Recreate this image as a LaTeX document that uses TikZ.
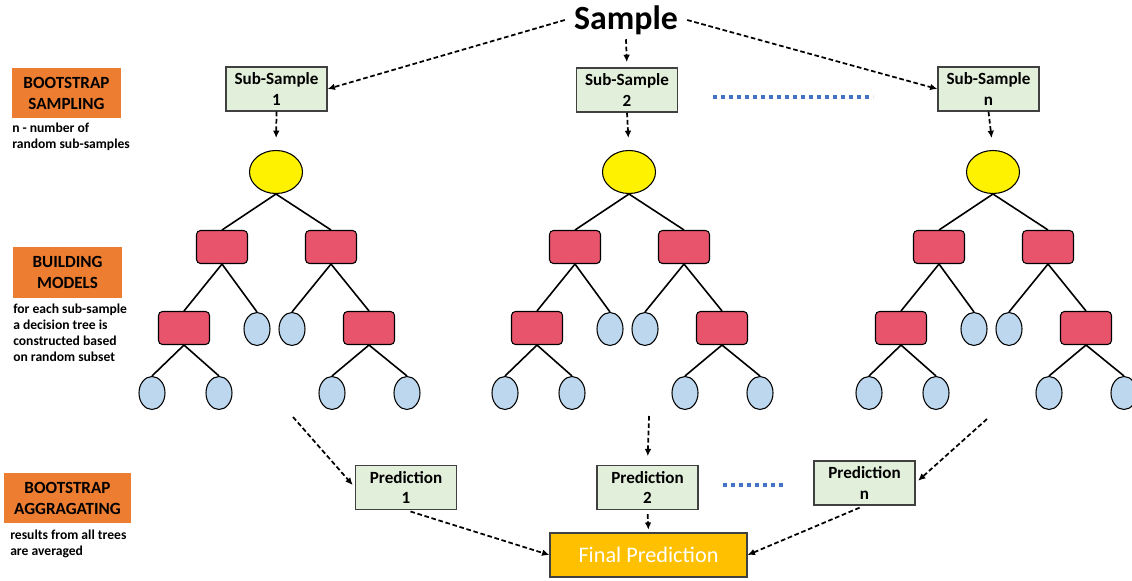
\documentclass[tikz,border=0pt]{standalone}
\usepackage{fontspec}
\setmainfont{Carlito}
\usetikzlibrary{shapes.geometric,arrows.meta}
\definecolor{phaseor}{HTML}{ED7D31}
\definecolor{boxgreen}{HTML}{E2EFDA}
\definecolor{boxline}{HTML}{404040}
\definecolor{splitred}{HTML}{E8546C}
\definecolor{leafblue}{HTML}{BDD7EE}
\definecolor{finalgold}{HTML}{FFC000}
\definecolor{dotblue}{HTML}{4472C4}
\tikzset{
  phasebox/.style={fill=phaseor, minimum width=81.75pt, minimum height=37.5pt, align=center, inner sep=0pt,
    font=\fontsize{12.8}{15.7}\selectfont\bfseries},
  phasenote/.style={anchor=west, align=left, inner sep=0pt, font=\fontsize{10.2}{11.9}\selectfont\bfseries},
  greenbox/.style={draw=boxline, fill=boxgreen, line width=0.9pt, minimum width=75.75pt, minimum height=33pt,
    align=center, inner sep=0pt, font=\fontsize{12.8}{15.7}\selectfont\bfseries},
  finalbox/.style={draw=boxline, fill=finalgold, line width=0.9pt, minimum width=147.75pt, minimum height=33pt,
    inner sep=0pt, text=white, font=\fontsize{16.7}{20}\selectfont},
  treeroot/.style={ellipse, draw, fill=yellow, line width=0.8pt, minimum width=39.75pt, minimum height=32.25pt, inner sep=0pt},
  treesplit/.style={draw, fill=splitred, rounded corners=3pt, line width=0.8pt, minimum width=38.25pt, minimum height=24.75pt, inner sep=0pt},
  treeleaf/.style={ellipse, draw, fill=leafblue, line width=0.8pt, minimum width=19.5pt, minimum height=24.75pt, inner sep=0pt},
  branch/.style={line width=1.2pt},
  flow/.style={-{Latex[length=5.5pt,width=5pt]}, dash pattern=on 3.5pt off 2pt, line width=1.3pt},
  dotline/.style={draw=dotblue, line width=2.4pt, dash pattern=on 3pt off 3pt}
}
\begin{document}
\begin{tikzpicture}[x=0.75pt,y=-0.75pt]
\useasboundingbox (0,0) rectangle (1132,581);

\node[phasebox] (samp) at (66.5,93) {BOOTSTRAP\\SAMPLING};
\node[phasenote] (sampnote) at (12,137) {n - number of\\random sub-samples};
\node[phasebox] (build) at (67.5,272.5) {BUILDING\\MODELS};
\node[phasenote] (buildnote) at (13,333) {for each sub-sample\\a decision tree is\\constructed based\\on random subset};
\node[phasebox, minimum width=95.25pt] (aggr) at (67.5,498) {BOOTSTRAP\\AGGRAGATING};
\node[phasenote] (aggrnote) at (10,544) {results from all trees\\are averaged};

\node[inner xsep=6.75pt, font=\fontsize{25.4}{30}\selectfont\bfseries] (sample) at (626,20) {Sample};
\node[greenbox] (sub1) at (276.5,89) {Sub-Sample\\1};
\node[greenbox] (sub2) at (627,90) {Sub-Sample\\2};
\node[greenbox] (subn) at (988.5,89) {Sub-Sample\\n};
\draw[dotline] (713,97) -- (873,97);
\draw[flow] (sample.west) -- (sub1.east);
\draw[flow, shorten >=4pt] (sample.south) -- (sub2.north);
\draw[flow] (sample.east) -- (subn.west);

\foreach \t/\x in {1/276,2/629,n/993}{
  \begin{scope}[shift={(\x,172)}]
    \node[treeroot] (r\t) at (0,0) {};
    \node[treesplit] (a\t) at (-54,75) {};
    \node[treesplit] (b\t) at (55,75) {};
    \node[treesplit] (c\t) at (-92,156) {};
    \node[treeleaf] (d\t) at (-19,157) {};
    \node[treeleaf] (e\t) at (16,157) {};
    \node[treesplit] (f\t) at (93,156) {};
    \node[treeleaf] (g\t) at (-124,221) {};
    \node[treeleaf] (h\t) at (-57,221) {};
    \node[treeleaf] (i\t) at (56,221) {};
    \node[treeleaf] (j\t) at (131,221) {};
  \end{scope}
  \draw[branch] (a\t.north) -- (r\t.south) -- (b\t.north);
  \draw[branch] (c\t.north) -- (a\t.south) -- (d\t.north);
  \draw[branch] (e\t.north) -- (b\t.south) -- (f\t.north);
  \draw[branch] (g\t.north) -- (c\t.south) -- (h\t.north);
  \draw[branch] (i\t.north) -- (f\t.south) -- (j\t.north);
  \draw[flow, shorten >=9pt] (sub\t.south) -- (r\t.north);
}

\node[greenbox] (pred1) at (406,487.5) {Prediction\\1};
\node[greenbox] (pred2) at (647.5,487.5) {Prediction\\2};
\node[greenbox] (predn) at (864.5,483) {Prediction\\n};
\node[finalbox] (final) at (648.5,555) {Final Prediction};
\draw[dotline] (723,485) -- (785,485);

\coordinate (out1) at (293,417);
\coordinate (out2) at (649,416);
\coordinate (outn) at (987,419);
\draw[flow, shorten >=2.5pt] (out1) -- (pred1.west);
\draw[flow, shorten >=6.5pt] (out2) -- (pred2.north);
\draw[flow, shorten >=2.5pt] (outn) -- (predn.east);
\draw[flow, shorten <=3.5pt] (pred1.south) -- (final.west);
\draw[flow, shorten <=3pt, shorten >=2pt] (pred2.south) -- (final.north);
\draw[flow, shorten <=4pt] (predn.south) -- (final.east);
\end{tikzpicture}
\end{document}
